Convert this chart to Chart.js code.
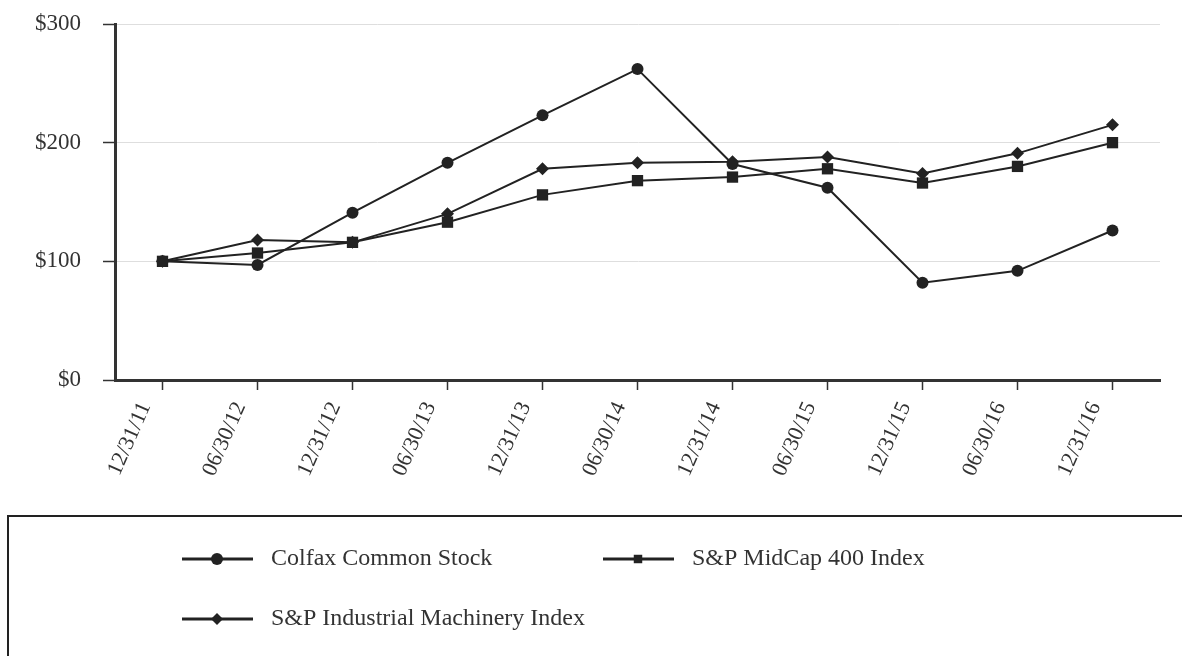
<!DOCTYPE html>
<html>
<head>
<meta charset="utf-8">
<script src="https://cdn.jsdelivr.net/npm/chart.js@4"></script>
<style>
  html, body { margin: 0; padding: 0; background: #fff; }
  #wrap { width: 1182px; height: 656px; position: relative; }
</style>
</head>
<body>
<div id="wrap"><canvas id="c" width="1182" height="656"></canvas></div>
<script>
// Cumulative total return, $100 invested 12/31/11
var dates = ['12/31/11', '06/30/12', '12/31/12', '06/30/13', '12/31/13', '06/30/14',
  '12/31/14', '06/30/15', '12/31/15', '06/30/16', '12/31/16'];
var colfax = [100, 97, 141, 183, 223, 262, 182, 162, 82, 92, 126];
var midcap = [100, 107, 116, 133, 156, 168, 171, 178, 166, 180, 200];
var machinery = [100, 118, 116, 140, 178, 183, 184, 188, 174, 191, 215];
var yTicks = [0, 100, 200, 300];

var SERIF = '"Liberation Serif", "Times New Roman", serif';
var INK = '#222';

function series(label, values, style, radius) {
  return {
    label: label,
    data: values,
    borderColor: INK,
    backgroundColor: INK,
    borderWidth: 2,
    pointStyle: style,
    pointRadius: radius,
    pointHoverRadius: radius,
    pointBackgroundColor: INK,
    pointBorderColor: INK,
    pointBorderWidth: 0,
    tension: 0
  };
}

// Boxed legend at the bottom, two columns
var boxLegend = {
  id: 'boxLegend',
  afterDraw: function (chart) {
    var ctx = chart.ctx;
    ctx.save();
    ctx.strokeStyle = INK;
    ctx.lineWidth = 2;
    ctx.strokeRect(8, 516, 1200, 200);
    var slots = [{ x: 182, y: 559 }, { x: 603, y: 559 }, { x: 182, y: 619 }];
    chart.data.datasets.forEach(function (ds, i) {
      var s = slots[i];
      ctx.strokeStyle = INK;
      ctx.lineWidth = 3;
      ctx.beginPath();
      ctx.moveTo(s.x, s.y);
      ctx.lineTo(s.x + 71, s.y);
      ctx.stroke();
      ctx.fillStyle = INK;
      Chart.helpers.drawPoint(ctx, { pointStyle: ds.pointStyle, radius: 6, borderWidth: 0 }, s.x + 35, s.y);
      ctx.fillStyle = '#333';
      ctx.font = '24px ' + SERIF;
      ctx.textBaseline = 'middle';
      ctx.textAlign = 'left';
      ctx.fillText(ds.label, s.x + 89, s.y);
    });
    ctx.restore();
  }
};

new Chart(document.getElementById('c'), {
  type: 'line',
  data: {
    labels: dates,
    datasets: [
      series('Colfax Common Stock', colfax, 'circle', 6),
      series('S&P MidCap 400 Index', midcap, 'rect', 8),
      series('S&P Industrial Machinery Index', machinery, 'rectRot', 6.5)
    ]
  },
  options: {
    responsive: false,
    animation: false,
    layout: { padding: { top: 24, right: 22, bottom: 0, left: 0 } },
    plugins: { legend: { display: false }, tooltip: { enabled: false } },
    scales: {
      x: {
        offset: true,
        afterFit: function (s) { s.height = 276; s.paddingLeft = 0; s.paddingRight = 0; },
        border: { display: true, color: '#333', width: 3 },
        grid: { drawOnChartArea: false, tickColor: '#333', tickLength: 10, tickWidth: 1.5 },
        ticks: {
          color: '#333',
          font: { family: SERIF, size: 22 },
          minRotation: 66,
          maxRotation: 66,
          padding: 8,
          labelOffset: -17
        }
      },
      y: {
        min: 0,
        max: 300,
        afterFit: function (s) { s.width = 115; s.paddingTop = 0; s.paddingBottom = 0; },
        afterBuildTicks: function (s) { s.ticks = yTicks.map(function (v) { return { value: v }; }); },
        border: { display: true, color: '#333', width: 3 },
        grid: { color: '#dedede', lineWidth: 1, tickColor: '#333', tickLength: 12, tickWidth: 1.5 },
        ticks: {
          color: '#333',
          font: { family: SERIF, size: 23 },
          padding: 22,
          callback: function (v) { return '$' + v; }
        }
      }
    }
  },
  plugins: [boxLegend]
});
</script>
</body>
</html>
